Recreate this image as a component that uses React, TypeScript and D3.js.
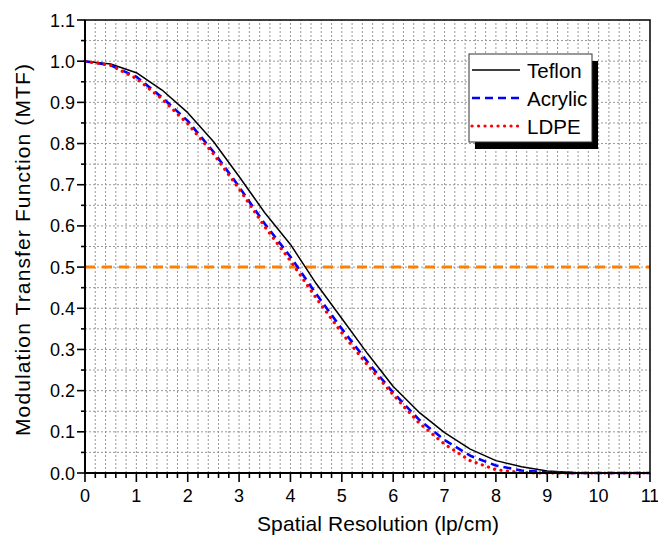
import React from 'react'
import * as d3 from 'd3'

// sampled every 0.5 lp/cm
const resolution = [0, 0.5, 1, 1.5, 2, 2.5, 3, 3.5, 4, 4.5, 5, 5.5, 6, 6.5, 7, 7.5, 8, 8.5, 9, 9.5, 10, 10.5, 11]
const teflon = [1.0, 0.993, 0.972, 0.93, 0.875, 0.805, 0.72, 0.632, 0.555, 0.46, 0.375, 0.29, 0.21, 0.148, 0.098, 0.058, 0.03, 0.015, 0.005, 0.001, 0, 0, 0]
const acrylic = [1.0, 0.99, 0.962, 0.912, 0.855, 0.78, 0.695, 0.605, 0.525, 0.435, 0.35, 0.27, 0.195, 0.13, 0.08, 0.042, 0.018, 0.006, 0.002, 0, 0, 0, 0]
const ldpe = [1.0, 0.99, 0.958, 0.908, 0.848, 0.775, 0.69, 0.598, 0.515, 0.425, 0.34, 0.262, 0.19, 0.122, 0.07, 0.03, 0.008, 0.001, 0, 0, 0, 0, 0]

const seriesNames = ['Teflon', 'Acrylic', 'LDPE']
const xTickValues = [0, 1, 2, 3, 4, 5, 6, 7, 8, 9, 10, 11]
const yTickValues = [0, 0.1, 0.2, 0.3, 0.4, 0.5, 0.6, 0.7, 0.8, 0.9, 1.0, 1.1]
const threshold = 0.5

const width = 658
const height = 535
const margin = { top: 20, right: 8, bottom: 62, left: 85 }
const font = '"Liberation Sans", Arial, sans-serif'

const styles = [
  { stroke: '#000', width: 1.5, dash: null, cap: 'butt' },
  { stroke: '#0000ff', width: 2.6, dash: '8,5', cap: 'butt' },
  { stroke: '#ff0000', width: 3.2, dash: '0.1,6.4', cap: 'round' }
]

export default function App() {
  const x = d3.scaleLinear().domain([0, 11]).range([margin.left, width - margin.right])
  const y = d3.scaleLinear().domain([0, 1.1]).range([height - margin.bottom, margin.top])

  const line = d3
    .line<number>()
    .x((d, i) => x(resolution[i]))
    .y(d => y(d))

  const series = [teflon, acrylic, ldpe]

  // grid every 0.2 in x, every 0.05 in y
  const xGrid = d3.range(0.2, 11, 0.2)
  const yGrid = d3.range(0.05, 1.1, 0.05)
  const xMinor = d3.range(0, 11.01, 0.2).filter(v => Math.abs(v - Math.round(v)) > 0.01)
  const yMinor = d3.range(0.05, 1.1, 0.1)

  const x0 = x(0), x1 = x(11), y0 = y(0), y1 = y(1.1)

  const legendX = 469, legendY = 54, legendW = 123, legendH = 88

  return (
    <svg width={width} height={height} style={{ position: 'absolute', left: 0, top: 0, background: '#fff' }}>
      <rect x={0} y={0} width={width} height={height} fill="#fff" />
      <g stroke="#8c8c8c" strokeWidth={0.9} strokeDasharray="2,2">
        {xGrid.map(v => (
          <line key={'gx' + v} x1={x(v)} x2={x(v)} y1={y0} y2={y1} />
        ))}
        {yGrid.map(v => (
          <line key={'gy' + v} x1={x0} x2={x1} y1={y(v)} y2={y(v)} />
        ))}
      </g>

      <line x1={x0} x2={x1} y1={y(threshold)} y2={y(threshold)} stroke="#ff8000" strokeWidth={3} strokeDasharray="10,7" />

      {series.map((s, i) => (
        <path
          key={seriesNames[i]}
          d={line(s)}
          fill="none"
          stroke={styles[i].stroke}
          strokeWidth={styles[i].width}
          strokeDasharray={styles[i].dash || undefined}
          strokeLinecap={styles[i].cap as any}
          strokeLinejoin="round"
        />
      ))}

      {/* frame */}
      <rect x={x0} y={y1} width={x1 - x0} height={y0 - y1} fill="none" stroke="#000" strokeWidth={1.5} />
      <line x1={x0} x2={x1} y1={y0} y2={y0} stroke="#000" strokeWidth={2} />
      <line x1={x0} x2={x0} y1={y0} y2={y1} stroke="#000" strokeWidth={2} />

      {/* ticks */}
      <g stroke="#000" strokeWidth={1.6}>
        {xTickValues.map(v => (
          <line key={'xt' + v} x1={x(v)} x2={x(v)} y1={y0} y2={y0 + 9} />
        ))}
        {xMinor.map(v => (
          <line key={'xm' + v} x1={x(v)} x2={x(v)} y1={y0} y2={y0 + 5} />
        ))}
        {yTickValues.map(v => (
          <line key={'yt' + v} x1={x0 - 8} x2={x0} y1={y(v)} y2={y(v)} />
        ))}
        {yMinor.map(v => (
          <line key={'ym' + v} x1={x0 - 4} x2={x0} y1={y(v)} y2={y(v)} />
        ))}
      </g>
      <g fontFamily={font} fontSize={18} fill="#000">
        {xTickValues.map(v => (
          <text key={'xl' + v} x={x(v)} y={y0 + 29} textAnchor="middle">
            {v}
          </text>
        ))}
        {yTickValues.map(v => (
          <text key={'yl' + v} x={x0 - 10} y={y(v) + 6.5} textAnchor="end">
            {d3.format('.1f')(v)}
          </text>
        ))}
      </g>

      <text x={378} y={531} textAnchor="middle" fontFamily={font} fontSize={21} fill="#000" textLength={242} lengthAdjust="spacing">
        Spatial Resolution (lp/cm)
      </text>
      <text
        transform={`translate(30,250)rotate(-90)`}
        textAnchor="middle"
        fontFamily={font}
        fontSize={21}
        fill="#000"
        textLength={372}
        lengthAdjust="spacing"
      >
        Modulation Transfer Function (MTF)
      </text>

      {/* legend */}
      <rect x={legendX + 6} y={legendY + 7} width={legendW} height={legendH} fill="#000" />
      <rect x={legendX} y={legendY} width={legendW} height={legendH} fill="#fff" stroke="#333" strokeWidth={1} />
      {seriesNames.map((name, i) => {
        const ry = legendY + 16 + i * 28
        return (
          <g key={'lg' + name}>
            <line
              x1={legendX + 3}
              x2={legendX + 51}
              y1={ry}
              y2={ry}
              stroke={styles[i].stroke}
              strokeWidth={styles[i].width}
              strokeDasharray={styles[i].dash || undefined}
              strokeLinecap={styles[i].cap as any}
            />
            <text x={legendX + 58} y={ry + 7.5} fontFamily={font} fontSize={20.5} fill="#000">
              {name}
            </text>
          </g>
        )
      })}
    </svg>
  )
}
